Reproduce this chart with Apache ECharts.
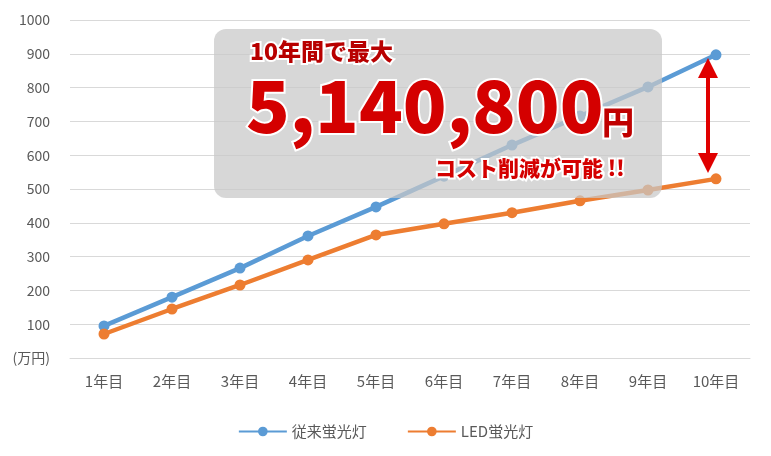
<!DOCTYPE html>
<html><head><meta charset="utf-8">
<script src="https://cdn.jsdelivr.net/npm/echarts@6/dist/echarts.min.js"></script>
<style>html,body{margin:0;padding:0;background:#fff}#c{width:771px;height:456px}</style>
</head><body><div id="c"></div>
<script>
const categories = ['1年目','2年目','3年目','4年目','5年目','6年目','7年目','8年目','9年目','10年目'];
const conventional = [95, 180, 266, 361, 447, 538, 630, 716, 802, 897];
const led = [71, 145, 216, 290, 364, 397, 430, 465, 497, 530];
const yTicks = [0,100,200,300,400,500,600,700,800,900,1000];

const chart = echarts.init(document.getElementById('c'));
const font = '"Noto Sans CJK JP", sans-serif';
function txt(text, x, y, size, color){
  return {type:'text', z:100, left:x, top:y, style:{text, fontFamily:font, fontWeight:900, fontSize:size, fill:color, stroke:'#fff', lineWidth:4}};
}
chart.setOption({
  animation:false,
  textStyle:{fontFamily:font},
  grid:{left:70,right:21,top:20,bottom:98},
  legend:{bottom:12,itemGap:40,itemWidth:48,itemHeight:12,textStyle:{color:'#595959',fontSize:15},
    data:['従来蛍光灯','LED蛍光灯']},
  xAxis:{type:'category',data:categories,axisLine:{lineStyle:{color:'#d9d9d9'}},axisTick:{show:false},
    axisLabel:{color:'#595959',fontSize:15,margin:16}},
  yAxis:{type:'value',min:0,max:1000,interval:100,axisLine:{show:false},
    splitLine:{lineStyle:{color:'#d9d9d9'}},
    axisLabel:{color:'#595959',fontSize:14,margin:20,formatter:v=>v===0?'(万円)':String(v)}},
  series:[
    {name:'従来蛍光灯',type:'line',data:conventional,symbol:'circle',symbolSize:11,
      lineStyle:{width:4.5,color:'#5b9bd5'},itemStyle:{color:'#5b9bd5'}},
    {name:'LED蛍光灯',type:'line',data:led,symbol:'circle',symbolSize:11,
      lineStyle:{width:4.5,color:'#ed7d31'},itemStyle:{color:'#ed7d31'}}
  ],
  graphic:[
    {type:'rect',z:90,shape:{x:214,y:29,width:448,height:169,r:12},style:{fill:'rgba(200,200,200,0.72)'}},
    txt('10年間で最大',248,38,23,'#b80000'),
    txt('5,140,800',244,68,72,'#d40000'),
    txt('円',600,104,32,'#c00000'),
    txt('コスト削減が可能 !!',433,156,21,'#d40000'),
    {type:'line',z:100,shape:{x1:708,y1:72,x2:708,y2:160},style:{stroke:'#e00000',lineWidth:4}},
    {type:'polygon',z:100,shape:{points:[[708,58],[698,78],[718,78]]},style:{fill:'#e00000'}},
    {type:'polygon',z:100,shape:{points:[[708,173],[698,153],[718,153]]},style:{fill:'#e00000'}}
  ]
});
</script></body></html>
